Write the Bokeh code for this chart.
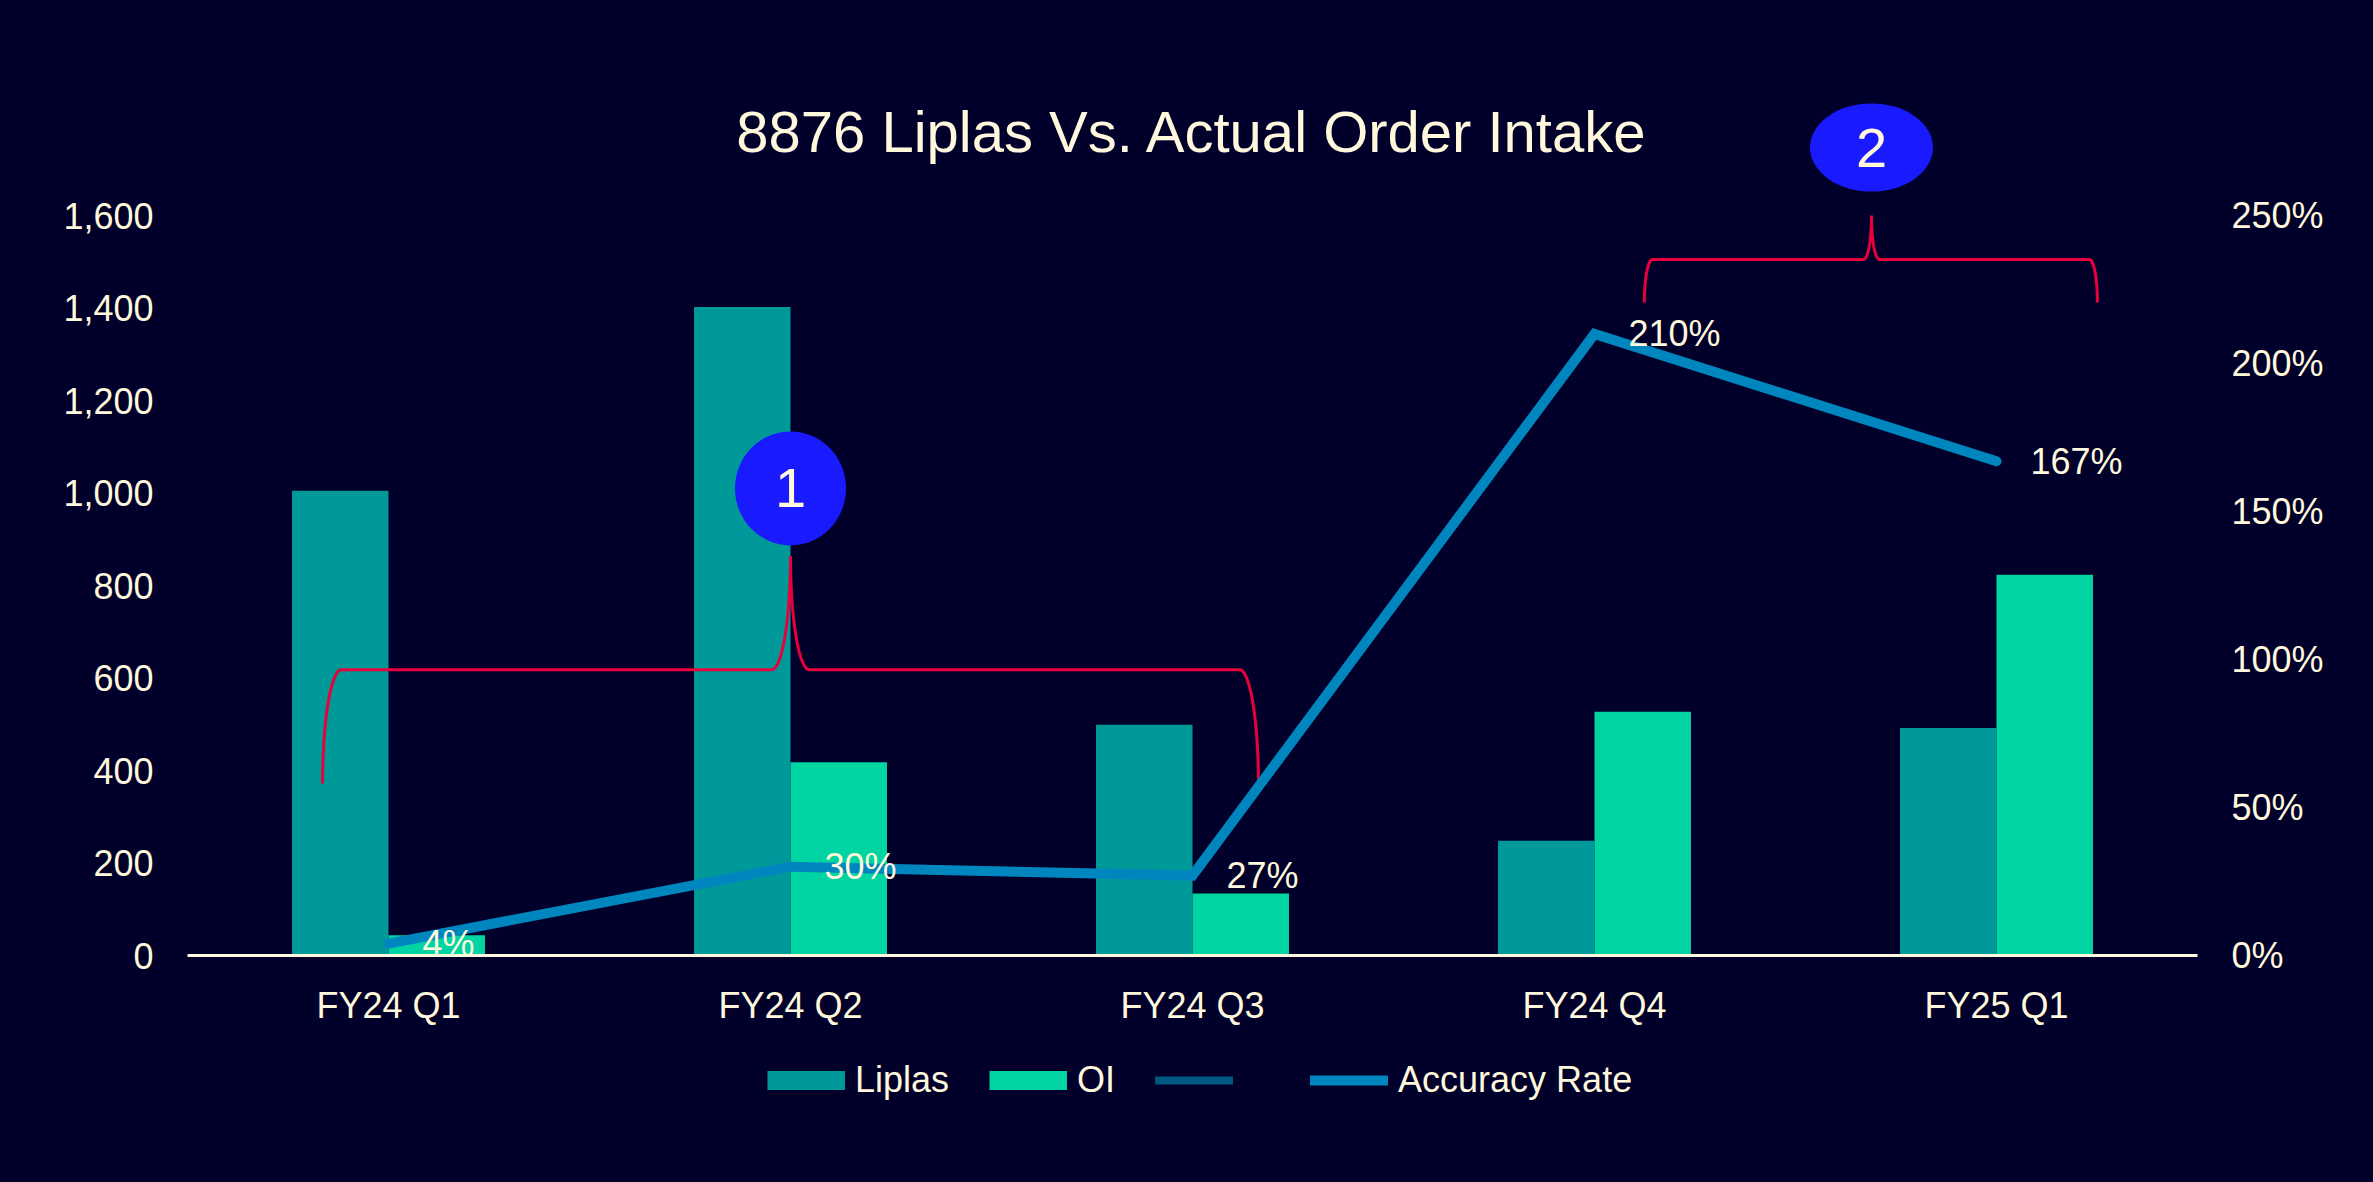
import numpy as np
from bokeh.plotting import figure
from bokeh.layouts import column
from bokeh.models import (ColumnDataSource, Range1d, FactorRange, LinearAxis, FixedTicker,
                          NumeralTickFormatter, PrintfTickFormatter, Legend, LegendItem,
                          LabelSet, Label)
from bokeh.transform import dodge
from bokeh.core.properties import value
from bokeh.embed import file_html
from bokeh.resources import INLINE

# ---------------- data ----------------
quarters = ["FY24 Q1", "FY24 Q2", "FY24 Q3", "FY24 Q4", "FY25 Q1"]
liplas = [1005, 1402, 499, 248, 492]
oi = [44, 418, 134, 527, 823]
accuracy = [4, 30, 27, 210, 167]
accuracy_labels = ["4%", "30%", "27%", "210%", "167%"]
left_ticks = [0, 200, 400, 600, 800, 1000, 1200, 1400, 1600]
right_ticks = [0, 50, 100, 150, 200, 250]
title_text = "8876 Liplas Vs. Actual Order Intake"
callouts = ["1", "2"]
legend_labels = ["Liplas", "OI", "\u2002\u2005", "Accuracy Rate"]

# ---------------- style ----------------
BG = "#00002A"
CREAM = "#FFF8DC"
FONT = "Liberation Sans"
C_LIPLAS = "#009999"
C_OI = "#00D4A3"
C_DARK = "#005880"
C_ACC = "#0086BF"
C_RED = "#E8003C"
C_BLUE = "#1A1AFF"

W = 2373
H_MAIN, H_LEG = 1030, 150
Y_MAX = 945 / 0.4625           # frame height / px-per-unit (1600 sits at the 250% line)
PCT_MAX = Y_MAX * 250.0 / 1600.0

p = figure(width=W, height=H_MAIN,
           x_range=FactorRange(factors=quarters, range_padding=0),
           y_range=Range1d(0, Y_MAX),
           output_backend="svg", toolbar_location=None,
           min_border_left=187, min_border_right=176,
           min_border_top=10, min_border_bottom=75,
           background_fill_color=BG, border_fill_color=BG,
           outline_line_color=None)
p.extra_y_ranges = {"pct": Range1d(0, PCT_MAX)}
p.xgrid.visible = False
p.ygrid.visible = False

def style_axis(ax, standoff):
    ax.axis_line_color = None
    ax.major_tick_line_color = None
    ax.minor_tick_line_color = None
    ax.major_tick_out = 0
    ax.major_tick_in = 0
    ax.minor_tick_out = 0
    ax.minor_tick_in = 0
    ax.major_label_standoff = standoff
    ax.major_label_text_font_size = "36px"
    ax.major_label_text_color = CREAM
    ax.major_label_text_font = FONT

# left axis
ya = p.yaxis[0]
ya.ticker = FixedTicker(ticks=left_ticks)
ya.formatter = NumeralTickFormatter(format="0,0")
style_axis(ya, 34)

# bottom axis
xa = p.xaxis[0]
style_axis(xa, 29)
xa.axis_line_color = CREAM
xa.axis_line_width = 3

# right axis
ra = LinearAxis(y_range_name="pct", ticker=FixedTicker(ticks=right_ticks),
                formatter=PrintfTickFormatter(format="%d%%"))
style_axis(ra, 34)
p.add_layout(ra, "right")

src = ColumnDataSource(dict(q=quarters, liplas=liplas, oi=oi,
                            acc=accuracy, lab=accuracy_labels))

# bars
p.vbar(x=dodge("q", -0.12, range=p.x_range), top="liplas", width=0.24,
       source=src, fill_color=C_LIPLAS, line_color=None)
p.vbar(x=dodge("q", 0.12, range=p.x_range), top="oi", width=0.24,
       source=src, fill_color=C_OI, line_color=None)

# braces (annotation shapes)
def brace(xl, xm, xr, yb, ybar, ytip, rx):
    t = np.linspace(0, np.pi / 2, 40)
    xs1 = xl + rx - rx * np.cos(t)
    ys1 = yb + (ybar - yb) * np.sin(t)
    xs2 = xm - rx + rx * np.sin(t)
    ys2 = ytip - (ytip - ybar) * np.cos(t)
    s = t[::-1]
    xs3 = xm + rx - rx * np.sin(s)
    ys3 = ytip - (ytip - ybar) * np.cos(s)
    xs4 = xr - rx + rx * np.cos(s)
    ys4 = yb + (ybar - yb) * np.sin(s)
    return (np.concatenate([xs1, xs2, xs3, xs4]).tolist(),
            np.concatenate([ys1, ys2, ys3, ys4]).tolist())

bx, by = brace(0.336, 1.5, 2.664, 372, 618, 863, 0.047)
p.line(bx, by, line_color=C_RED, line_width=3)
bx2, by2 = brace(3.624, 4.189, 4.751, 1412, 1505, 1600, 0.02)
p.line(bx2, by2, line_color=C_RED, line_width=3)

# accuracy line
p.line("q", "acc", source=src, y_range_name="pct", line_color=C_ACC,
       line_width=10, line_cap="round", line_join="miter")

# data labels
p.add_layout(LabelSet(x="q", y="acc", text="lab", source=src, y_range_name="pct",
                      x_offset=34, y_offset=0, text_align="left", text_baseline="middle",
                      text_font_size=value("36px"), text_color=value(CREAM),
                      text_font=value(FONT)))

# callout ellipses
p.ellipse(x=[1.5], y=[1010], width=111, height=114, width_units="screen",
          height_units="screen", fill_color=C_BLUE, line_color=None)
p.ellipse(x=[4.189], y=[1747], width=123, height=88, width_units="screen",
          height_units="screen", fill_color=C_BLUE, line_color=None)
p.add_layout(Label(x=1.5, y=1010, text=callouts[0], text_align="center",
                   text_baseline="middle", text_font_size="56px",
                   text_color=CREAM, text_font=FONT))
p.add_layout(Label(x=4.189, y=1747, text=callouts[1], text_align="center",
                   text_baseline="middle", text_font_size="56px",
                   text_color=CREAM, text_font=FONT))

# title
p.add_layout(Label(x=2.5, y=1781, text=title_text, text_align="center",
                   text_baseline="middle", text_font_size="58px",
                   text_color=CREAM, text_font=FONT))

# ---------------- legend strip ----------------
lg = figure(width=W, height=H_LEG, x_range=Range1d(0, 1), y_range=Range1d(0, 1),
            x_axis_type=None, y_axis_type=None,
            output_backend="svg", toolbar_location=None,
            min_border_left=0, min_border_right=0, min_border_top=0, min_border_bottom=0,
            background_fill_color=BG, border_fill_color=BG, outline_line_color=None)
lg.xgrid.visible = False
lg.ygrid.visible = False
# proxy renderers: a single point outside the range, so only the legend glyph shows
px, py = [0.5], [-5]
g_lip = lg.line(px, py, line_color=C_LIPLAS, line_width=19)
g_oi = lg.line(px, py, line_color=C_OI, line_width=19)
g_dark = lg.line(px, py, line_color=C_DARK, line_width=8, line_cap="round")
g_acc = lg.line(px, py, line_color=C_ACC, line_width=10, line_cap="round")

legend = Legend(items=[LegendItem(label=legend_labels[0], renderers=[g_lip]),
                       LegendItem(label=legend_labels[1], renderers=[g_oi]),
                       LegendItem(label=legend_labels[2], renderers=[g_dark]),
                       LegendItem(label=legend_labels[3], renderers=[g_acc])],
                orientation="horizontal", location=(575, 74),
                label_text_font_size="36px", label_text_color=CREAM,
                label_text_font=FONT, glyph_width=78, glyph_height=40,
                label_standoff=10, spacing=40, padding=5, margin=0,
                background_fill_alpha=0, border_line_alpha=0)
lg.add_layout(legend)

layout = column(p, lg, spacing=0)
html = file_html(layout, INLINE)
html = html.replace("</head>", "<style>html,body{background:%s;}</style></head>" % BG, 1)
open("out.html", "w").write(html)
